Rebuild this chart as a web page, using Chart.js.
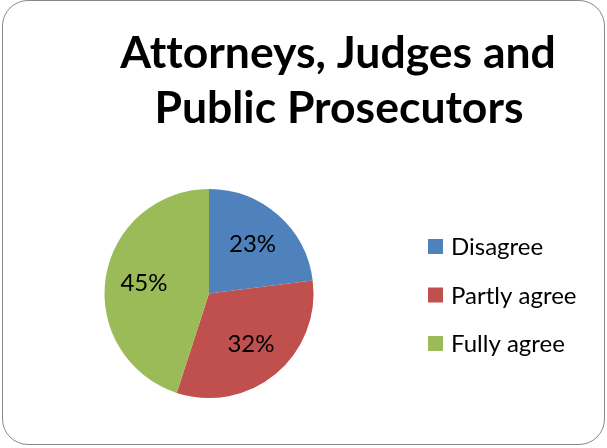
<!DOCTYPE html>
<html>
<head>
<meta charset="utf-8">
<script src="https://cdn.jsdelivr.net/npm/chart.js@4"></script>
<style>
  html, body { margin: 0; padding: 0; background: #fff; }
  #wrap { position: relative; width: 607px; height: 448px; }
  #frame {
    position: absolute; left: 2px; top: 0; width: 601px; height: 443px;
    border: 1.5px solid #878787; border-radius: 26px; pointer-events: none;
  }
  canvas { position: absolute; left: 0; top: 0; }
</style>
</head>
<body>
<div id="wrap">
  <canvas id="pieChart" width="607" height="448"></canvas>
  <div id="frame"></div>
</div>
<script>
// -------------------------
//      SURVEY DATA
// -------------------------
const titleLines = ["Attorneys, Judges and", "Public Prosecutors"];
const answers = ["Disagree", "Partly agree", "Fully agree"];
const shares = [23, 32, 45];
const sliceColors = ["#4F81BD", "#C0504D", "#9BBB59"];

const FONT = "Lato, 'Open Sans', sans-serif";

// title, legend and percentage labels drawn straight on the canvas
const decorPlugin = {
  id: "decor",
  afterDraw(chart) {
    const c = chart.ctx;
    c.save();
    c.textRendering = "optimizeSpeed";
    c.fillStyle = "#000";
    c.textAlign = "center";
    c.textBaseline = "alphabetic";
    c.font = "bold 44.5px " + FONT;
    c.fillText(titleLines[0], 338, 68);
    c.fillText(titleLines[1], 339, 123);

    // percentage labels inside the slices
    const meta = chart.getDatasetMeta(0);
    c.font = "24px " + FONT;
    c.textBaseline = "middle";
    meta.data.forEach((arc, i) => {
      const p = arc.getProps(["x", "y", "startAngle", "endAngle", "outerRadius"], true);
      const mid = (p.startAngle + p.endAngle) / 2;
      const r = p.outerRadius * 0.63;
      c.fillText(shares[i] + "%", p.x + Math.cos(mid) * r, p.y + Math.sin(mid) * r);
    });

    // legend on the right
    c.textAlign = "left";
    answers.forEach((name, i) => {
      const cy = 246.5 + i * 48.5;
      c.fillStyle = sliceColors[i];
      c.fillRect(428, cy - 7.5, 15, 15);
      c.fillStyle = "#000";
      c.fillText(name, 451, cy + 1);
    });
    c.restore();
  }
};

new Chart(document.getElementById("pieChart").getContext("2d"), {
  type: "pie",
  data: {
    labels: answers,
    datasets: [{
      data: shares,
      backgroundColor: sliceColors,
      borderWidth: 0
    }]
  },
  options: {
    responsive: false,
    animation: false,
    layout: { padding: { left: 104, right: 293, top: 189, bottom: 50 } },
    plugins: {
      legend: { display: false },
      title: { display: false },
      tooltip: { enabled: false }
    }
  },
  plugins: [decorPlugin]
});
</script>
</body>
</html>
